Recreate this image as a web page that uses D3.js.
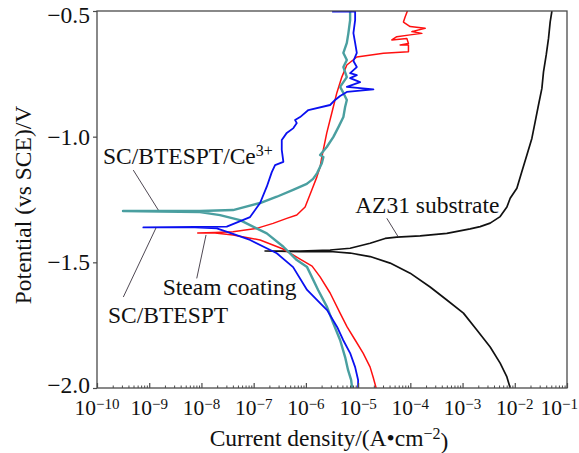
<!DOCTYPE html>
<html><head><meta charset="utf-8">
<script src="https://cdn.jsdelivr.net/npm/d3@7"></script>
<style>
body{margin:0;background:#fff}
svg{display:block}
text{font-family:"Liberation Serif","Times New Roman",serif;fill:#111}
</style>
</head><body><svg id="c" width="579" height="453"></svg>
<script>
// ---------- data (log10 of current density in A·cm^-2, potential in V vs SCE) ----------
const xDecades = [-10,-9,-8,-7,-6,-5,-4,-3,-2,-1];
const yTicks = [-2.0,-1.5,-1.0,-0.5];
const seriesNames = ["AZ31 substrate","Steam coating","SC/BTESPT/Ce3+","SC/BTESPT"];

const azLogI = [-2.088,-2.151,-2.280,-2.471,-2.726,-2.983,-3.301,-3.621,-4.004,-4.387,-4.770,-5.153,-5.536,-6.111,-6.782,
  -6.111,-5.536,-5.153,-4.770,-4.483,-4.259,-3.812,-3.301,-2.854,-2.663,-2.471,-2.280,-2.151,-2.088,-1.960,-1.864,-1.768,-1.673,-1.609,-1.546,-1.481,-1.450,-1.398,-1.354,-1.322,-1.289];
const azE = [-2.0,-1.956,-1.901,-1.837,-1.769,-1.702,-1.650,-1.598,-1.543,-1.503,-1.477,-1.463,-1.457,-1.457,-1.455,
  -1.455,-1.451,-1.444,-1.424,-1.405,-1.400,-1.395,-1.385,-1.367,-1.358,-1.344,-1.318,-1.280,-1.245,-1.205,-1.139,-1.073,-1.007,-0.940,-0.874,-0.808,-0.742,-0.675,-0.609,-0.543,-0.5];

const steamLogI = [-4.655,-4.713,-4.770,-4.904,-5.057,-5.211,-5.345,-5.536,-5.728,-5.881,-6.111,-6.437,-6.877,-7.395,-7.739,-8.071,
  -7.739,-7.395,-6.941,-6.628,-6.366,-6.174,-6.015,-5.887,-5.791,-5.728,-5.695,-5.600,-5.504,-5.408,-5.312,-5.216,-5.025,-4.515,-4.036,-4.036,-4.195,-4.036,-4.067,-4.354,-4.259,-4.004,-3.780,-3.971,-3.716,-4.004,-4.132,-4.100,-4.056];
const steamE = [-2.0,-1.956,-1.917,-1.861,-1.809,-1.757,-1.702,-1.622,-1.558,-1.515,-1.487,-1.447,-1.411,-1.391,-1.383,-1.383,
  -1.381,-1.378,-1.365,-1.345,-1.325,-1.312,-1.280,-1.212,-1.161,-1.121,-1.081,-0.985,-0.906,-0.826,-0.763,-0.715,-0.683,-0.668,-0.662,-0.635,-0.635,-0.629,-0.609,-0.615,-0.602,-0.595,-0.589,-0.582,-0.569,-0.562,-0.544,-0.524,-0.5];

const ceLogI = [-5.115,-5.134,-5.192,-5.249,-5.345,-5.479,-5.594,-5.766,-5.977,-6.174,-6.431,-6.749,-7.261,-7.644,-8.027,-8.793,-9.502,
  -8.027,-7.395,-6.877,-6.557,-6.245,-5.983,-5.862,-5.785,-5.695,-5.665,-5.728,-5.600,-5.473,-5.377,-5.282,-5.249,-5.216,-5.282,-5.345,-5.216,-5.282,-5.216,-5.282,-5.216,-5.186,-5.153,-5.153];
const ceE = [-2.0,-1.968,-1.929,-1.877,-1.809,-1.741,-1.678,-1.610,-1.519,-1.491,-1.438,-1.385,-1.332,-1.312,-1.300,-1.298,-1.296,
  -1.296,-1.292,-1.264,-1.239,-1.212,-1.188,-1.168,-1.145,-1.106,-1.081,-1.073,-1.041,-1.001,-0.962,-0.922,-0.882,-0.854,-0.826,-0.802,-0.763,-0.723,-0.695,-0.667,-0.627,-0.588,-0.536,-0.5];

const btLogI = [-5.0,-5.0,-5.057,-5.153,-5.287,-5.402,-5.594,-5.728,-5.977,-6.245,-6.557,-7.069,-7.452,-7.707,-8.123,-9.113,
  -8.123,-7.515,-7.069,-6.877,-6.749,-6.653,-6.590,-6.431,-6.462,-6.462,-6.366,-6.239,-6.174,-6.207,-6.111,-5.952,-5.536,-5.441,-5.345,-5.216,-4.707,-5.216,-4.962,-5.153,-5.025,-5.153,-5.025,-5.090,-5.025,-5.057,-5.090,-5.057,-5.057,-5.498];
const btE = [-2.0,-1.968,-1.917,-1.861,-1.809,-1.757,-1.690,-1.662,-1.610,-1.519,-1.464,-1.411,-1.383,-1.365,-1.361,-1.361,
  -1.359,-1.358,-1.320,-1.264,-1.199,-1.141,-1.113,-1.100,-1.053,-1.013,-0.985,-0.966,-0.946,-0.934,-0.922,-0.894,-0.874,-0.854,-0.838,-0.822,-0.812,-0.802,-0.783,-0.767,-0.755,-0.747,-0.723,-0.699,-0.667,-0.627,-0.588,-0.536,-0.502,-0.502];

// annotation anchors (log10 current, potential)
const labelAnchors = [
  {name:"AZ31 substrate", at:[-5.057,-1.303], from:[-4.450,-1.325], to:[-4.228,-1.400]},
  {name:"Steam coating", at:[-8.741,-1.630], from:[-8.090,-1.564], to:[-7.912,-1.391]},
  {name:"SC/BTESPT/Ce3+", at:[-9.885,-1.109], from:[-9.305,-1.133], to:[-8.826,-1.292]},
  {name:"SC/BTESPT", at:[-9.789,-1.741], from:[-9.496,-1.638], to:[-8.870,-1.363]}
];

// ---------- chart ----------
const W = 579, H = 453;
const m = {left:97, right:12, top:11, bottom:65};
const svg = d3.select("#c");
const x = d3.scaleLog().domain([1e-10, 1e-1]).range([m.left, W - m.right]);
const y = d3.scaleLinear().domain([-2.0, -0.5]).range([H - m.bottom, m.top]);
const P = v => Math.pow(10, v);
const FS = 23.5;

svg.append("clipPath").attr("id","clip").append("rect")
  .attr("x", m.left).attr("y", m.top).attr("width", W-m.left-m.right).attr("height", H-m.top-m.bottom);

const series = [
  {name:seriesNames[0], li:azLogI, e:azE, color:"#111111", w:1.7},
  {name:seriesNames[1], li:steamLogI, e:steamE, color:"#ff1010", w:1.5},
  {name:seriesNames[2], li:ceLogI, e:ceE, color:"#4a9fa0", w:2.4},
  {name:seriesNames[3], li:btLogI, e:btE, color:"#0a10f0", w:1.8}
];
const line = d3.line().x(d => x(P(d[0]))).y(d => y(d[1])).curve(d3.curveLinear);
const gLines = svg.append("g").attr("clip-path","url(#clip)");
series.forEach(s => {
  gLines.append("path").datum(s.li.map((v,i) => [v, s.e[i]]))
    .attr("d", line).attr("fill","none").attr("stroke", s.color)
    .attr("stroke-width", s.w).attr("stroke-linejoin","round");
});

// frame
const axisColor = "#4a4a4a";
svg.append("rect").attr("x", m.left).attr("y", m.top)
  .attr("width", W-m.left-m.right).attr("height", H-m.top-m.bottom)
  .attr("fill","none").attr("stroke", axisColor).attr("stroke-width",1.3);

// x axis: minor + major inward ticks
const minorTicks = [];
xDecades.slice(0,-1).forEach(e => { for (let k=2;k<=9;k++) minorTicks.push(k*P(e)); });
const gx = svg.append("g").attr("transform",`translate(0,${H-m.bottom})`);
gx.append("g").call(d3.axisBottom(x).tickValues(minorTicks).tickSize(-2.5).tickFormat(""))
  .call(g => g.select(".domain").remove())
  .selectAll("line").attr("stroke", axisColor);
gx.append("g").call(d3.axisBottom(x).tickValues(xDecades.map(P)).tickSize(-5).tickFormat(""))
  .call(g => g.select(".domain").remove())
  .selectAll("line").attr("stroke", axisColor).attr("stroke-width",1.2);

xDecades.forEach((e,i) => {
  const t = svg.append("text").attr("y", H - m.bottom + 27).attr("font-size", 21.5);
  const cx = x(P(e));
  if (i === xDecades.length - 1) t.attr("x", W - 1).attr("text-anchor","end");
  else t.attr("x", cx).attr("text-anchor","middle");
  t.append("tspan").text("10");
  t.append("tspan").attr("dy","-0.42em").attr("font-size",15).text("\u2212" + Math.abs(e));
});

// y axis
const gy = svg.append("g").attr("transform",`translate(${m.left},0)`);
gy.call(d3.axisLeft(y).tickValues(yTicks).tickSize(4).tickPadding(3).tickFormat(d3.format(".1f")))
  .call(g => g.select(".domain").remove())
  .call(g => g.selectAll("line").attr("stroke", axisColor).attr("stroke-width",1.2))
  .call(g => g.selectAll("text").attr("font-size",FS).attr("fill","#111")
     .style("font-family",'"Liberation Serif",serif'))
  .call(g => g.selectAll(".tick").filter(d => d === -0.5).select("text").attr("y", 4))
  .call(g => g.selectAll(".tick").filter(d => d === -2.0).select("text").attr("y", -3));

// axis titles
const xt = svg.append("text").attr("x", 329).attr("y", 446).attr("text-anchor","middle").attr("font-size",FS);
xt.append("tspan").text("Current density/(A\u2022cm");
xt.append("tspan").attr("dy","-0.45em").attr("font-size",16).text("\u22122");
xt.append("tspan").attr("dy","0.45em").text(")");

svg.append("text").attr("transform","translate(31,205) rotate(-90)")
  .attr("text-anchor","middle").attr("font-size",FS).text("Potential (vs SCE)/V");

// annotations
labelAnchors.forEach(a => {
  svg.append("line")
    .attr("x1", x(P(a.from[0]))).attr("y1", y(a.from[1]))
    .attr("x2", x(P(a.to[0]))).attr("y2", y(a.to[1]))
    .attr("stroke","#3b3340").attr("stroke-width",0.9);
  const t = svg.append("text").attr("x", x(P(a.at[0]))).attr("y", y(a.at[1])).attr("font-size",FS);
  if (a.name.endsWith("Ce3+")) {
    t.append("tspan").text("SC/BTESPT/Ce");
    t.append("tspan").attr("dy","-0.5em").attr("font-size",16).text("3+");
  } else t.text(a.name);
});
</script>
</body></html>
